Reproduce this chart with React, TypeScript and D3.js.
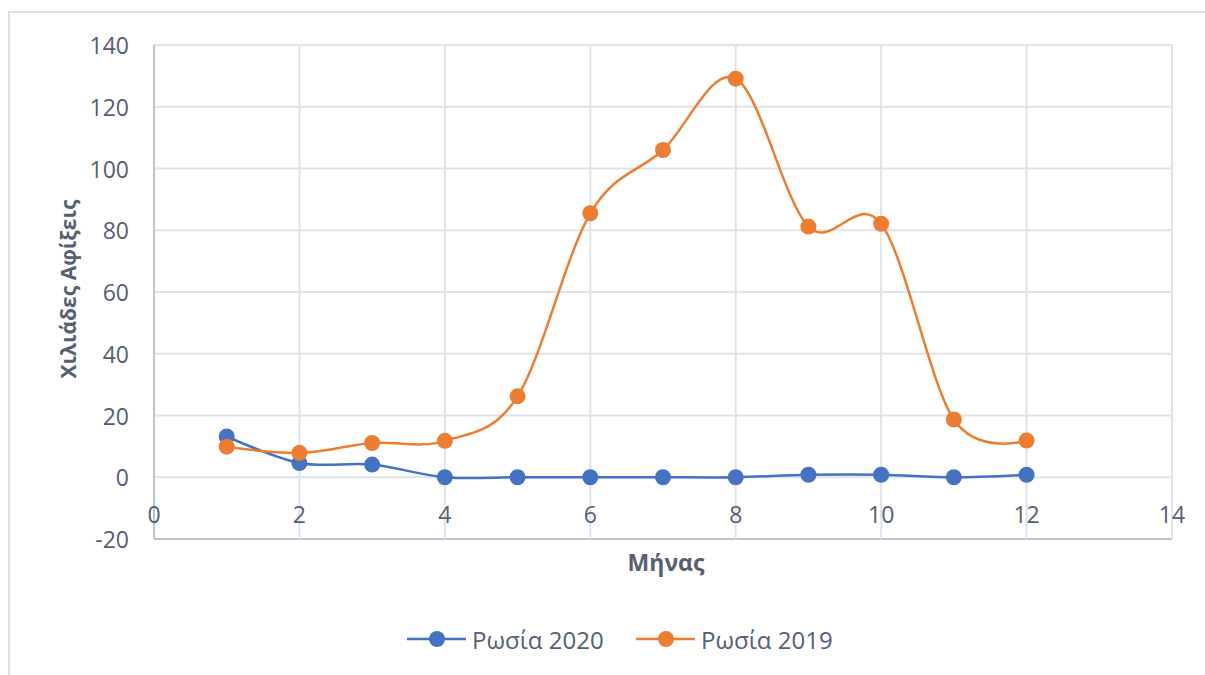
import React from "react";
import * as d3 from "d3";

const months = [1, 2, 3, 4, 5, 6, 7, 8, 9, 10, 11, 12];
const russia2020 = [13.2, 4.6, 4.1, 0, 0, 0, 0, 0, 0.8, 0.8, 0, 0.8];
const russia2019 = [9.9, 7.9, 11.1, 11.8, 26.2, 85.5, 106, 129.1, 81.2, 82.1, 18.7, 11.9];
const xTicks = [0, 2, 4, 6, 8, 10, 12, 14];
const yTicks = [-20, 0, 20, 40, 60, 80, 100, 120, 140];
const seriesNames = ["Ρωσία 2020", "Ρωσία 2019"];
const colors = ["#4472C4", "#ED7D31"];
const xTitle = "Μήνας";
const yTitle = "Χιλιάδες Αφίξεις";

const W = 1205;
const H = 675;
const plot = { left: 154, right: 1172, top: 45, bottom: 539 };
const textColor = "#556074";
const gridColor = "#dfe3ea";
const axisColor = "#bcc5d1";
const font = "'Open Sans', 'Noto Sans', sans-serif";

export default function App() {
  const x = d3.scaleLinear().domain([0, 14]).range([plot.left, plot.right]);
  const y = d3.scaleLinear().domain([-20, 140]).range([plot.bottom, plot.top]);
  const line = d3
    .line<number>()
    .x((_, i) => x(months[i]))
    .y((d) => y(d))
    .curve(d3.curveCatmullRom.alpha(0));
  const series = [russia2020, russia2019];

  const legendY = 639;
  const legendItems = [
    { x0: 407, name: seriesNames[0], color: colors[0] },
    { x0: 636, name: seriesNames[1], color: colors[1] },
  ];

  return (
    <svg
      width={W}
      height={H}
      style={{ position: "absolute", left: 0, top: 0, background: "#fff" }}
      fontFamily={font}
    >
      <rect x={9} y={12} width={1200} height={700} fill="#fff" stroke="#dde1e7" strokeWidth={2} />
      {yTicks.map((t) => (
        <line
          key={"h" + t}
          x1={plot.left}
          x2={plot.right}
          y1={y(t)}
          y2={y(t)}
          stroke={t === -20 ? axisColor : gridColor}
          strokeWidth={2}
        />
      ))}
      {xTicks.map((t) => (
        <line
          key={"v" + t}
          x1={x(t)}
          x2={x(t)}
          y1={plot.top}
          y2={plot.bottom}
          stroke={t === 0 ? axisColor : gridColor}
          strokeWidth={2}
        />
      ))}
      {yTicks.map((t) => (
        <text
          key={"yl" + t}
          x={129}
          y={y(t)}
          textAnchor="end"
          dominantBaseline="central"
          fontSize={23}
          fill={textColor}
        >
          {t}
        </text>
      ))}
      {xTicks.map((t) => (
        <text
          key={"xl" + t}
          x={x(t)}
          y={514}
          textAnchor="middle"
          dominantBaseline="central"
          fontSize={23}
          fill={textColor}
        >
          {t}
        </text>
      ))}
      <text
        x={666}
        y={562}
        textAnchor="middle"
        dominantBaseline="central"
        fontSize={23}
        fontWeight="bold"
        fill={textColor}
      >
        {xTitle}
      </text>
      <text
        transform={`translate(68, 289) rotate(-90)`}
        textAnchor="middle"
        dominantBaseline="central"
        fontSize={21}
        fontWeight="bold"
        fill={textColor}
      >
        {yTitle}
      </text>
      {series.map((s, si) => (
        <g key={"s" + si}>
          <path d={line(s) || ""} fill="none" stroke={colors[si]} strokeWidth={2.5} />
          {s.map((v, i) => (
            <circle key={i} cx={x(months[i])} cy={y(v)} r={8} fill={colors[si]} />
          ))}
        </g>
      ))}
      {legendItems.map((it) => (
        <g key={it.name}>
          <line x1={it.x0} x2={it.x0 + 59} y1={legendY} y2={legendY} stroke={it.color} strokeWidth={2.5} />
          <circle cx={it.x0 + 30} cy={legendY} r={8} fill={it.color} />
          <text
            x={it.x0 + 65}
            y={legendY}
            dominantBaseline="central"
            fontSize={24}
            fill={textColor}
          >
            {it.name}
          </text>
        </g>
      ))}
    </svg>
  );
}
